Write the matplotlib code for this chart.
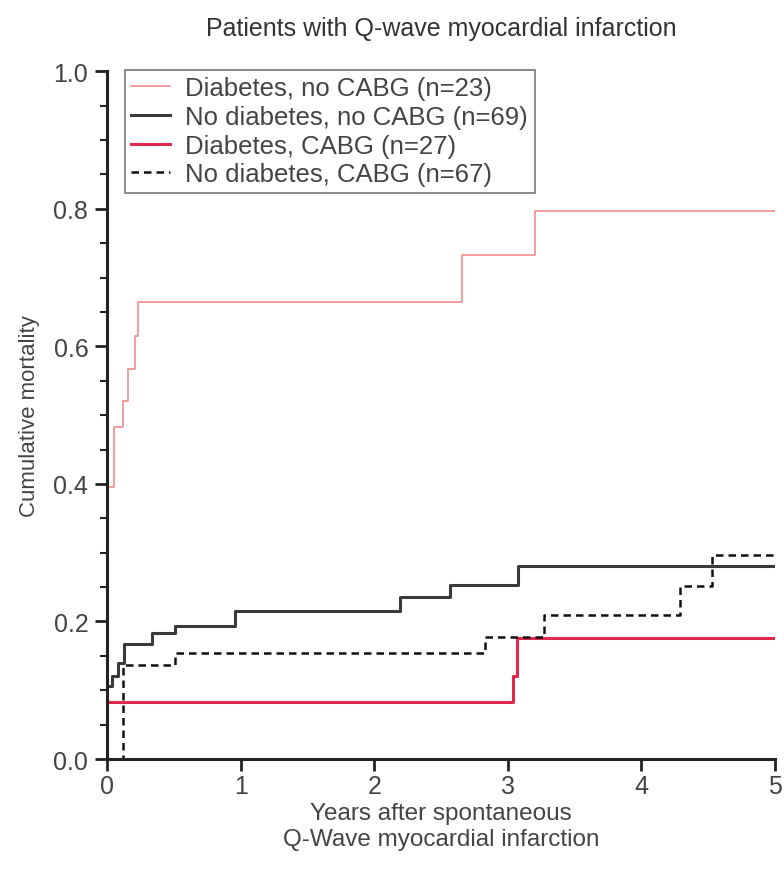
import matplotlib.pyplot as plt
from matplotlib.ticker import MultipleLocator

plt.rcParams['font.family'] = ['Liberation Sans', 'DejaVu Sans']

# step curves (time in years, cumulative mortality), drawn with where='post'
diab_nocabg_t = [0, 0.01, 0.05, 0.12, 0.16, 0.21, 0.23, 2.66, 3.2, 5]
diab_nocabg_y = [0.27, 0.395, 0.483, 0.52, 0.567, 0.615, 0.665, 0.733, 0.797, 0.797]

nodiab_nocabg_t = [0, 0.04, 0.08, 0.13, 0.34, 0.51, 0.96, 2.19, 2.57, 3.08, 5]
nodiab_nocabg_y = [0.106, 0.12, 0.14, 0.167, 0.183, 0.193, 0.215, 0.235, 0.253, 0.28, 0.28]

diab_cabg_t = [0, 3.04, 3.07, 5]
diab_cabg_y = [0.083, 0.12, 0.176, 0.176]

nodiab_cabg_t = [0, 0.12, 0.51, 2.83, 3.27, 4.29, 4.53, 5]
nodiab_cabg_y = [0, 0.137, 0.154, 0.178, 0.21, 0.252, 0.297, 0.297]

labels = ['Diabetes, no CABG (n=23)', 'No diabetes, no CABG (n=69)',
          'Diabetes, CABG (n=27)', 'No diabetes, CABG (n=67)']

fig = plt.figure(figsize=(7.84, 8.70), dpi=100)
ax = fig.add_axes([0.1365, 0.1264, 0.852, 0.7906])

ax.step(diab_nocabg_t, diab_nocabg_y, where='post', color='#f08c8c', lw=1.2, label=labels[0])
ax.step(nodiab_nocabg_t, nodiab_nocabg_y, where='post', color='#3a3a3a', lw=2.2, label=labels[1])
ax.step(diab_cabg_t, diab_cabg_y, where='post', color='#e0284f', lw=2.2, label=labels[2])
ax.step(nodiab_cabg_t, nodiab_cabg_y, where='post', color='#111111', lw=1.8,
        ls=(0, (3, 2)), label=labels[3])

ax.set_xlim(0, 5)
ax.set_ylim(0, 1.0)
ax.xaxis.set_major_locator(MultipleLocator(1))
ax.yaxis.set_major_locator(MultipleLocator(0.2))
ax.yaxis.set_minor_locator(MultipleLocator(0.05))
ax.yaxis.set_major_formatter(plt.FuncFormatter(lambda v, p: f'{v:.1f}'))

for s in ['top', 'right']:
    ax.spines[s].set_visible(False)
for s in ['left', 'bottom']:
    ax.spines[s].set_linewidth(2.2)
    ax.spines[s].set_color('#222222')
    ax.spines[s].set_clip_on(False)

ax.tick_params(axis='both', which='major', direction='out', length=8.5, width=2,
               color='#222222', labelsize=18, labelcolor='#444444', pad=5)
ax.tick_params(axis='x', which='major', pad=2)
ax.tick_params(axis='y', which='minor', direction='out', length=5, width=1.5, color='#222222')

ax.set_ylabel('Cumulative mortality', fontsize=16, color='#444444', labelpad=10)
ax.set_xlabel('Years after spontaneous\nQ-Wave myocardial infarction', fontsize=17.5,
              color='#444444', labelpad=3, linespacing=1.25)
ax.set_title('Patients with Q-wave myocardial infarction', fontsize=18,
             color='#333333', pad=26)

leg = ax.legend(loc='upper left', bbox_to_anchor=(0.027, 1.002), fontsize=18.5,
                frameon=True, fancybox=False, handlelength=1.5, handletextpad=0.6,
                borderpad=0.25, labelspacing=0.18, borderaxespad=0)
leg.get_frame().set_edgecolor('#555555')
leg.get_frame().set_linewidth(1.2)
for t in leg.get_texts():
    t.set_color('#444444')

fig.savefig('out.png', dpi=100)
